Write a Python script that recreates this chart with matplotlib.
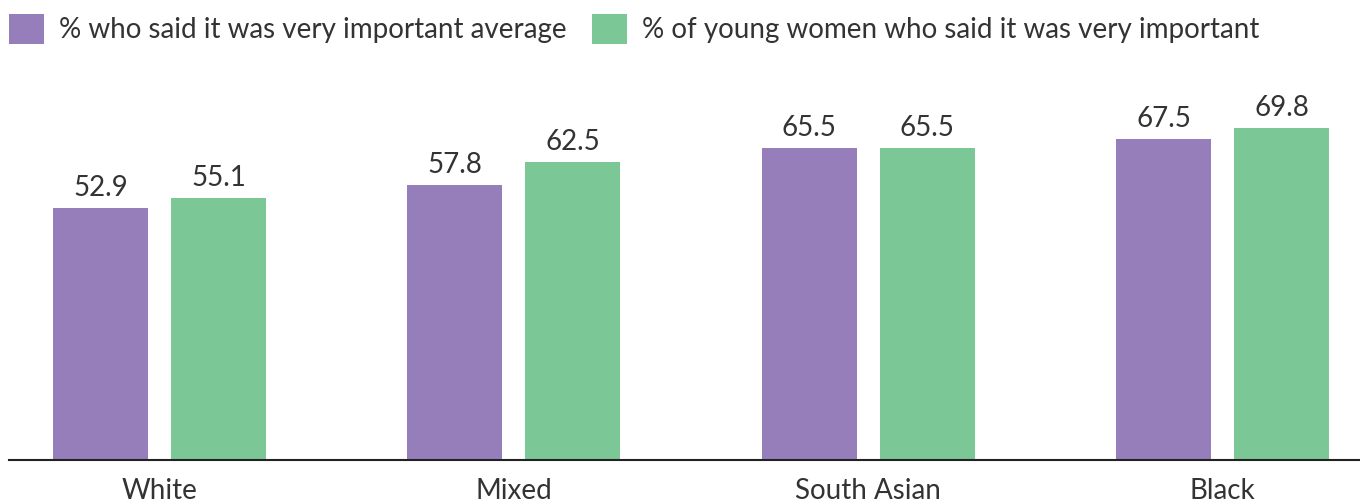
import numpy as np
import matplotlib.pyplot as plt

plt.rcParams['font.family'] = ['Lato', 'DejaVu Sans']

categories = ["White", "Mixed", "South Asian", "Black"]
average_pct = [52.9, 57.8, 65.5, 67.5]
young_women_pct = [55.1, 62.5, 65.5, 69.8]
series_labels = [
    "% who said it was very important average",
    "% of young women who said it was very important",
]

PURPLE = "#967eba"
GREEN = "#7bc896"
TEXT = "#333333"

fig = plt.figure(figsize=(13.6, 4.99), dpi=100)
ax = fig.add_axes([9 / 1360, 39 / 499, 1351 / 1360, 381 / 499])

x = np.arange(len(categories))
width = 0.268
offset = 0.1664

b1 = ax.bar(x - offset, average_pct, width, color=PURPLE, label=series_labels[0])
b2 = ax.bar(x + offset, young_women_pct, width, color=GREEN, label=series_labels[1])

for bars in (b1, b2):
    ax.bar_label(bars, fmt="%.1f", padding=5, fontsize=20, color=TEXT)

ax.set_xlim(-0.4246, 3.388)
ax.set_ylim(0, 80)
ax.set_yticks([])
ax.set_xticks(x)
ax.set_xticklabels(categories, fontsize=20, color=TEXT)
ax.tick_params(axis="x", length=0, pad=13)

for side in ("top", "right", "left"):
    ax.spines[side].set_visible(False)
ax.spines["bottom"].set_color("#222222")
ax.spines["bottom"].set_linewidth(1.5)

fig.legend(
    handles=[b1, b2],
    labels=series_labels,
    loc="upper left",
    bbox_to_anchor=(0.0, 0.99),
    ncol=2,
    frameon=False,
    fontsize=20,
    handlelength=1.26,
    handleheight=1.26,
    handletextpad=0.54,
    columnspacing=0.9,
    borderpad=0,
    borderaxespad=0.33,
    labelcolor=TEXT,
)

fig.savefig("out.png", dpi=100)
